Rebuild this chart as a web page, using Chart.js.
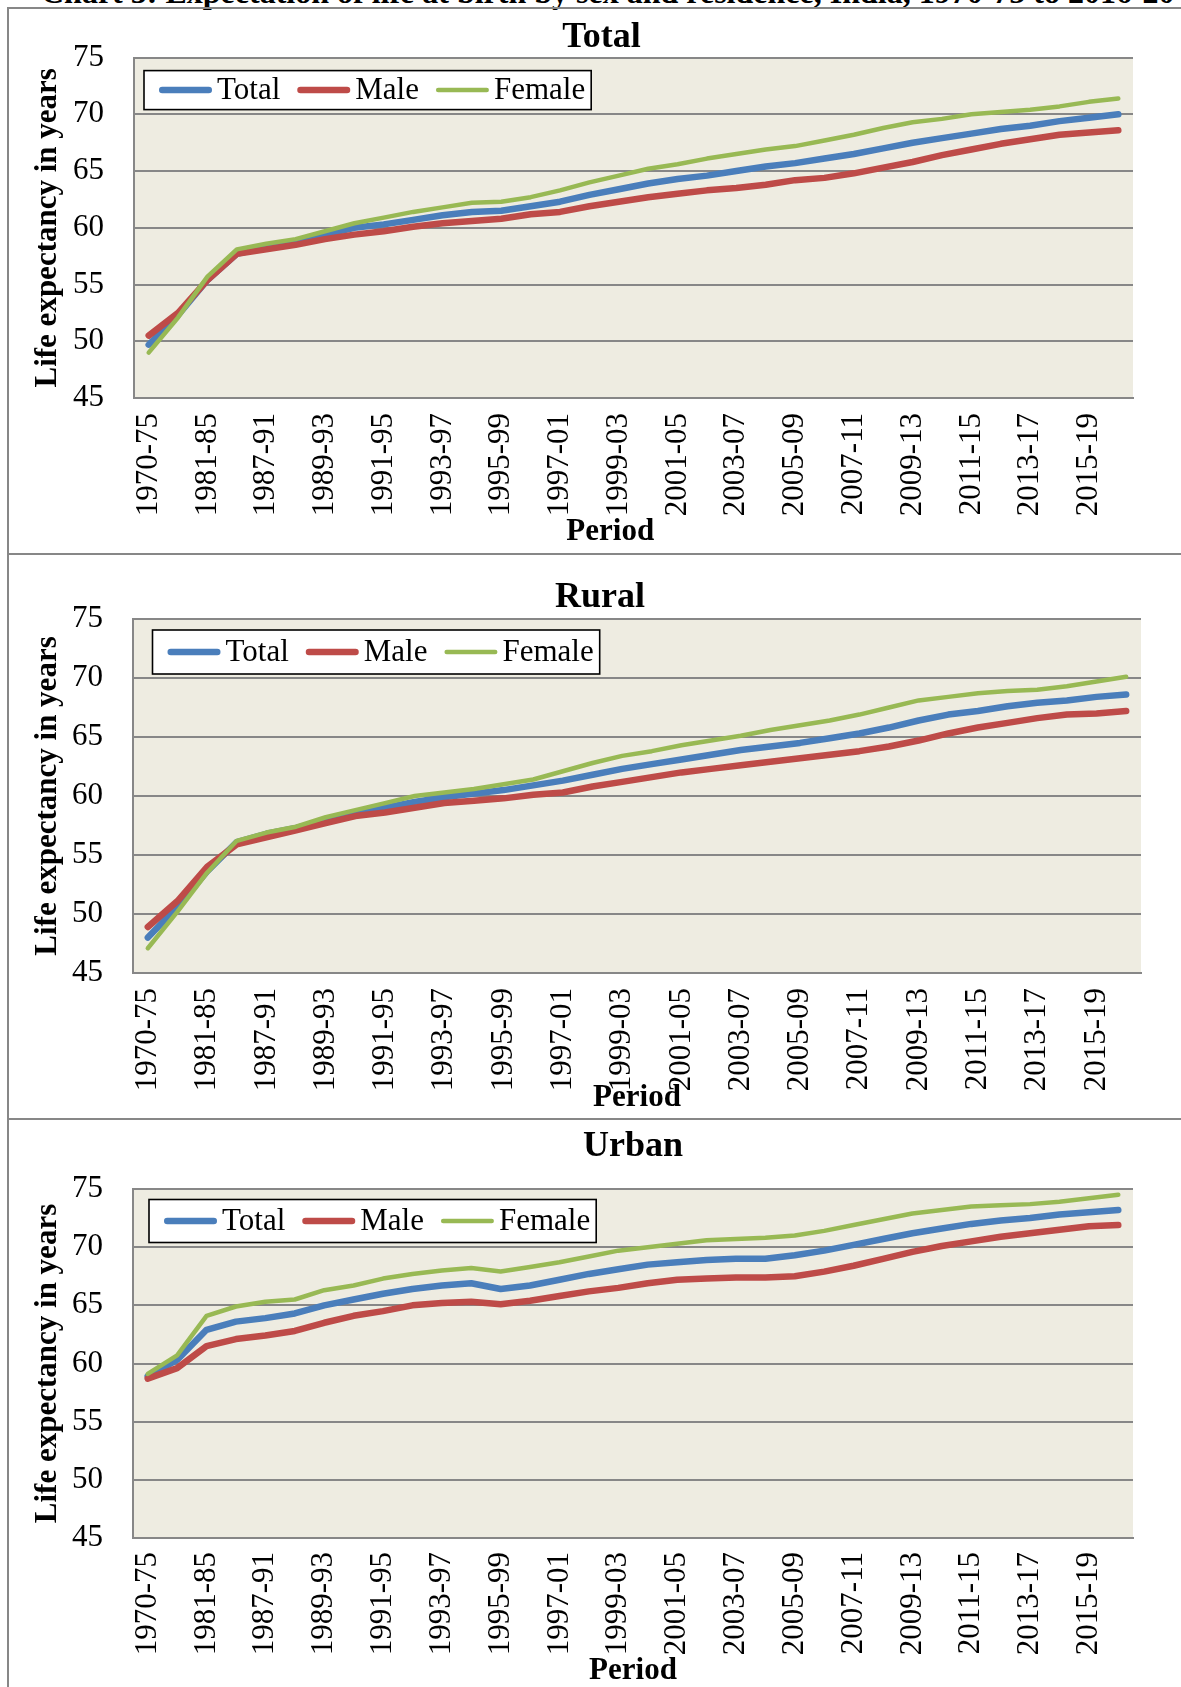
<!DOCTYPE html>
<html>
<head>
<meta charset="utf-8">
<script src="https://cdn.jsdelivr.net/npm/chart.js@4.4.1/dist/chart.umd.min.js"></script>
<style>
  html, body { margin: 0; padding: 0; background: #fff; }
  body { width: 1181px; height: 1687px; overflow: hidden; position: relative; font-family: 'Liberation Serif', serif; }
  #pageTitle { position: absolute; left: 41px; top: -24px; font: bold 32px/32px 'Liberation Serif', serif; white-space: nowrap; color: #000; }
  .wrap { position: absolute; left: 0; }
  .hline { position: absolute; left: 7px; width: 1300px; height: 2px; background: #878787; }
  .vline { position: absolute; left: 7px; top: 7px; width: 2px; height: 1700px; background: #878787; }
</style>
</head>
<body>
<div id="pageTitle">Chart 3: Expectation of life at birth by sex and residence, India, 1970-75 to 2016-20</div>

<div class="wrap" id="w1"><canvas id="c1"></canvas></div>
<div class="wrap" id="w2"><canvas id="c2"></canvas></div>
<div class="wrap" id="w3"><canvas id="c3"></canvas></div>

<div class="vline"></div>
<div class="hline" style="top:7px"></div>
<div class="hline" style="top:553px"></div>
<div class="hline" style="top:1118px"></div>

<script>
// ---------------- DATA ----------------
const categories = ['1970-75','1976-80','1981-85','1986-90','1987-91','1988-92','1989-93','1990-94','1991-95','1992-96','1993-97','1994-98','1995-99','1996-00','1997-01','1998-02','1999-03','2000-04','2001-05','2002-06','2003-07','2004-08','2005-09','2006-10','2007-11','2008-12','2009-13','2010-14','2011-15','2012-16','2013-17','2014-18','2015-19','2016-20'];

const totalTotal  = [49.7,52.3,55.4,57.7,58.3,58.8,59.4,60.0,60.3,60.7,61.1,61.4,61.5,61.9,62.3,62.9,63.4,63.9,64.3,64.6,65.0,65.4,65.7,66.1,66.5,67.0,67.5,67.9,68.3,68.7,69.0,69.4,69.7,70.0];
const totalMale   = [50.5,52.5,55.4,57.7,58.1,58.5,59.0,59.4,59.7,60.1,60.4,60.6,60.8,61.2,61.4,61.9,62.3,62.7,63.0,63.3,63.5,63.8,64.2,64.4,64.8,65.3,65.8,66.4,66.9,67.4,67.8,68.2,68.4,68.6];
const totalFemale = [49.0,52.1,55.7,58.1,58.6,59.0,59.7,60.4,60.9,61.4,61.8,62.2,62.3,62.7,63.3,64.0,64.6,65.2,65.6,66.1,66.5,66.9,67.2,67.7,68.2,68.8,69.3,69.6,70.0,70.2,70.4,70.7,71.1,71.4];

const ruralTotal  = [48.0,50.6,53.6,56.1,56.8,57.3,57.9,58.5,59.0,59.5,59.9,60.2,60.5,60.9,61.3,61.8,62.3,62.7,63.1,63.5,63.9,64.2,64.5,64.9,65.3,65.8,66.4,66.9,67.2,67.6,67.9,68.1,68.4,68.6];
const ruralMale   = [48.9,51.1,54.0,55.9,56.5,57.1,57.7,58.3,58.6,59.0,59.4,59.6,59.8,60.1,60.3,60.8,61.2,61.6,62.0,62.3,62.6,62.9,63.2,63.5,63.8,64.2,64.7,65.3,65.8,66.2,66.6,66.9,67.0,67.2];
const ruralFemale = [47.1,50.2,53.5,56.2,56.9,57.4,58.2,58.8,59.4,60.0,60.3,60.6,61.0,61.4,62.1,62.8,63.4,63.8,64.3,64.7,65.1,65.6,66.0,66.4,66.9,67.5,68.1,68.4,68.7,68.9,69.0,69.3,69.7,70.1];

const urbanTotal  = [58.9,60.3,62.9,63.6,63.9,64.3,65.0,65.5,66.0,66.4,66.7,66.9,66.4,66.7,67.2,67.7,68.1,68.5,68.7,68.9,69.0,69.0,69.3,69.7,70.2,70.7,71.2,71.6,72.0,72.3,72.5,72.8,73.0,73.2];
const urbanMale   = [58.7,59.6,61.5,62.1,62.4,62.8,63.5,64.1,64.5,65.0,65.2,65.3,65.1,65.4,65.8,66.2,66.5,66.9,67.2,67.3,67.4,67.4,67.5,67.9,68.4,69.0,69.6,70.1,70.5,70.9,71.2,71.5,71.8,71.9];
const urbanFemale = [59.1,60.7,64.1,64.9,65.3,65.5,66.3,66.7,67.3,67.7,68.0,68.2,67.9,68.3,68.7,69.2,69.7,70.0,70.3,70.6,70.7,70.8,71.0,71.4,71.9,72.4,72.9,73.2,73.5,73.6,73.7,73.9,74.2,74.5];

const seriesNames = ['Total', 'Male', 'Female'];
const panelTitles = ['Total', 'Rural', 'Urban'];
const yTicks = [45, 50, 55, 60, 65, 70, 75];
const yAxisTitle = 'Life expectancy in years';
const xAxisTitle = 'Period';

// ---------------- STYLE / LAYOUT ----------------
const FONT = "'Liberation Serif', 'Times New Roman', serif";
const colors = ['#4A7EBB', '#BE4B48', '#98B954'];
const widths = [6.5, 6.5, 4.5];
const gridColor = '#878787';
const plotBg = '#EEECE1';

const layouts = [
  { top: 9,    bottom: 553,  chartTop: 55,   chartBottom: 398,  chartLeft: 134, chartRight: 1133, padLeft: 70, titleFull: true,  titleY: 35,     periodY: 532,  periodShift: 6, xGap: 15, leg: {dx: 10,   dy: 13,   h: 39} },
  { top: 555,  bottom: 1118, chartTop: 619,  chartBottom: 973,  chartLeft: 133, chartRight: 1141, padLeft: 59, titleFull: true,  titleY: 598,    periodY: 1098, periodShift: 0, xGap: 15, leg: {dx: 19.5, dy: 11,   h: 44} },
  { top: 1120, bottom: 1687, chartTop: 1189, chartBottom: 1538, chartLeft: 133, chartRight: 1133, padLeft: 0,  titleFull: false, titleY: 1146.5, periodY: 1671, periodShift: 0, xGap: 14, leg: {dx: 16,   dy: 10.5, h: 43} }
];

const panelData = [
  [totalTotal, totalMale, totalFemale],
  [ruralTotal, ruralMale, ruralFemale],
  [urbanTotal, urbanMale, urbanFemale]
];

// plot background
const bgPlugin = {
  id: 'plotBg',
  beforeDraw(chart) {
    const a = chart.chartArea, ctx = chart.ctx;
    ctx.save();
    ctx.fillStyle = plotBg;
    ctx.fillRect(a.left, a.top, a.right - a.left, a.bottom - a.top);
    ctx.restore();
  }
};

// boxed legend inside the plot area
const boxLegend = {
  id: 'boxLegend',
  afterDraw(chart, args, opts) {
    const ctx = chart.ctx, a = chart.chartArea;
    const x0 = a.left + opts.dx, y0 = a.top + opts.dy, h = opts.h;
    const lineLen = 53, gapText = 5, gapItem = 17, padL = 15, padR = 6;
    ctx.save();
    ctx.font = '31px ' + FONT;
    const ds = chart.data.datasets;
    let w = padL;
    ds.forEach((d, i) => { w += lineLen + gapText + ctx.measureText(d.label).width + (i < ds.length - 1 ? gapItem : 0); });
    w += padR;
    ctx.fillStyle = '#fff';
    ctx.fillRect(x0, y0, w, h);
    ctx.strokeStyle = '#000';
    ctx.lineWidth = 1.6;
    ctx.strokeRect(x0, y0, w, h);
    let x = x0 + padL;
    const cy = y0 + h / 2;
    ds.forEach((d) => {
      const lw = d.borderWidth;
      ctx.beginPath();
      ctx.strokeStyle = d.borderColor;
      ctx.lineWidth = lw;
      ctx.lineCap = 'round';
      ctx.moveTo(x + lw / 2, cy);
      ctx.lineTo(x + lineLen - lw / 2, cy);
      ctx.stroke();
      x += lineLen + gapText;
      ctx.fillStyle = '#000';
      ctx.textBaseline = 'middle';
      ctx.textAlign = 'left';
      ctx.fillText(d.label, x, cy + 1);
      x += ctx.measureText(d.label).width + gapItem;
    });
    ctx.restore();
  }
};

function makeChart(idx) {
  const L = layouts[idx];
  const padRight = 40;
  const padLeft = L.padLeft;
  const W = L.chartRight + padRight;
  const H = L.bottom - L.top;
  const wrap = document.getElementById('w' + (idx + 1));
  wrap.style.top = L.top + 'px';
  wrap.style.width = W + 'px';
  wrap.style.height = H + 'px';

  const titleFontSize = 36, titleLH = titleFontSize * 1.2;
  const titlePadTop = (L.titleY - L.top) - titleLH / 2;
  const titlePadBottom = (L.chartTop - L.top) - titlePadTop - titleLH;
  const axFont = 31, axLH = axFont * 1.2;
  const yTitlePad = 48 - padLeft - axLH / 2;
  const yWidth = L.chartLeft - padLeft;
  const xHeight = L.bottom - L.chartBottom;
  const xTitlePadBottom = (L.bottom - L.periodY) - axLH / 2;

  const datasets = seriesNames.map((name, i) => ({
    label: name,
    data: panelData[idx][i],
    borderColor: colors[i],
    backgroundColor: colors[i],
    borderWidth: widths[i],
    borderCapStyle: 'round',
    borderJoinStyle: 'round',
    pointRadius: 0,
    pointHoverRadius: 0,
    tension: 0,
    fill: false,
    order: seriesNames.length - 1 - i
  }));

  new Chart(document.getElementById('c' + (idx + 1)), {
    type: 'line',
    data: { labels: categories, datasets },
    options: {
      responsive: true,
      maintainAspectRatio: false,
      animation: false,
      events: [],
      layout: { padding: { left: padLeft, right: padRight, top: 0, bottom: 0 } },
      plugins: {
        legend: { display: false },
        tooltip: { enabled: false },
        title: {
          display: true,
          text: panelTitles[idx],
          color: '#000',
          fullSize: L.titleFull,
          font: { family: FONT, size: titleFontSize, weight: 'bold', lineHeight: 1.2 },
          padding: { top: titlePadTop, bottom: titlePadBottom }
        },
        boxLegend: L.leg
      },
      scales: {
        x: {
          type: 'category',
          offset: true,
          grid: { display: false, drawTicks: false },
          border: { display: true, color: gridColor, width: 2 },
          ticks: {
            autoSkip: false,
            minRotation: 90,
            maxRotation: 90,
            padding: L.xGap,
            color: '#000',
            font: { family: FONT, size: axFont },
            callback: function (v, i) { return i % 2 === 0 ? this.getLabelForValue(v) : ''; }
          },
          title: {
            display: true,
            text: xAxisTitle + ' '.repeat(L.periodShift),
            color: '#000',
            font: { family: FONT, size: axFont, weight: 'bold', lineHeight: 1.2 },
            padding: { top: 0, bottom: xTitlePadBottom }
          },
          afterFit(scale) { scale.height = xHeight; }
        },
        y: {
          min: yTicks[0],
          max: yTicks[yTicks.length - 1],
          afterBuildTicks(scale) { scale.ticks = yTicks.map(v => ({ value: v })); },
          grid: { color: gridColor, lineWidth: 2, drawTicks: false },
          border: { display: true, color: gridColor, width: 2 },
          ticks: {
            padding: 30,
            color: '#000',
            font: { family: FONT, size: axFont }
          },
          title: {
            display: true,
            text: yAxisTitle,
            color: '#000',
            font: { family: FONT, size: axFont, weight: 'bold', lineHeight: 1.2 },
            padding: { top: yTitlePad, bottom: 0 }
          },
          afterFit(scale) { scale.width = yWidth; }
        }
      }
    },
    plugins: [bgPlugin, boxLegend]
  });
}

[0, 1, 2].forEach(makeChart);
</script>
</body>
</html>
